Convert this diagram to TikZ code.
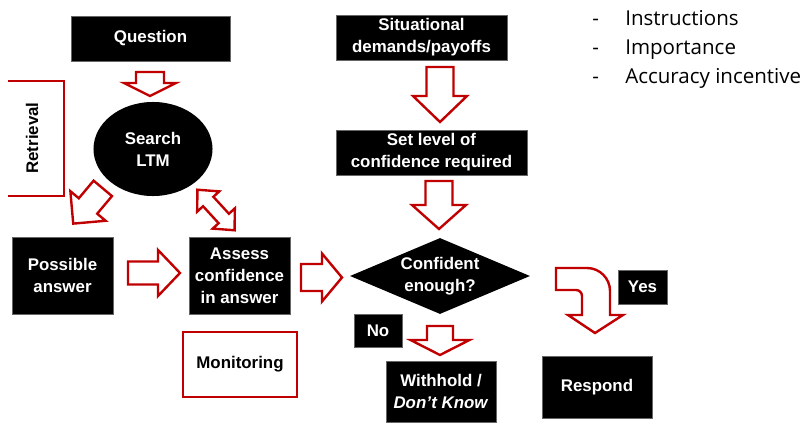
\documentclass[tikz,border=0pt]{standalone}
\usepackage{fontspec}
\setmainfont{Liberation Sans}
\newfontfamily\listfont{Open Sans}
\usepackage{xcolor}
\usepackage{tikz}
\usetikzlibrary{shapes,arrows,positioning,calc}
\usetikzlibrary{shapes.geometric}
\definecolor{darkred}{RGB}{192,0,0}

\begin{document}
\begin{tikzpicture}[x=0.025cm, y=0.025cm,
  box/.style={rectangle, draw=black!60, line width=0.6pt, fill=black, text=white, inner sep=0pt,
    font=\bfseries\fontsize{12}{15.5}\selectfont, align=center},
  redbox/.style={rectangle, draw=darkred, line width=1.7pt, fill=white, inner sep=0pt,
    font=\bfseries\fontsize{12}{15.5}\selectfont, align=center},
  redline/.style={draw=darkred, line width=1.7pt, line join=miter},
  listitem/.style={anchor=west, inner sep=0pt, text height=1.6ex, text depth=0.3ex,
    font=\listfont\fontsize{14.6}{16}\selectfont},
  pics/blkarrow/.style n args={4}{code={
    \draw[redline, fill=white] (-#1/2,-#2/2) -- ({#1/2-#4},-#2/2) -- ({#1/2-#4},-#3/2) -- (#1/2,0)
      -- ({#1/2-#4},#3/2) -- ({#1/2-#4},#2/2) -- (-#1/2,#2/2) -- cycle;}},
  pics/dblarrow/.style n args={4}{code={
    \draw[redline, fill=white] (-#1/2,0) -- ({-#1/2+#4},#3/2) -- ({-#1/2+#4},#2/2) -- ({#1/2-#4},#2/2)
      -- ({#1/2-#4},#3/2) -- (#1/2,0) -- ({#1/2-#4},-#3/2) -- ({#1/2-#4},-#2/2)
      -- ({-#1/2+#4},-#2/2) -- ({-#1/2+#4},-#3/2) -- cycle;}}
]
\useasboundingbox (0,0) rectangle (804,-426);

% Boxes
\node[box, minimum width=3.975cm, minimum height=1.125cm] (question) at (150.5,-38.5) {Question};
\node[box, minimum width=4.275cm, minimum height=1.125cm] (situ) at (421.5,-37.5) {Situational\\demands/payoffs};
\node[box, minimum width=4.775cm, minimum height=1.125cm] (setlevel) at (431.5,-152.5) {Set level of\\confidence required};
\node[ellipse, fill=black, text=white, inner sep=0pt, minimum width=2.975cm, minimum height=2.35cm,
  font=\bfseries\fontsize{12}{15.5}\selectfont, align=center] (search) at (153,-149) {Search\\LTM};
\node[box, minimum width=2.525cm, minimum height=1.925cm] (possible) at (62.5,-275.5) {Possible\\answer};
\node[box, minimum width=2.525cm, minimum height=1.925cm] (assess) at (239.5,-275.5) {Assess\\confidence\\in answer};
\node[diamond, fill=black, inner sep=0pt, minimum width=4.5cm, minimum height=1.9cm] (conf) at (440,-276) {};
\node[text=white, font=\bfseries\fontsize{12}{15.5}\selectfont, align=center] (conftext) at (conf.center) {Confident\\enough?};
\node[box, minimum width=1.225cm, minimum height=0.85cm] (yes) at (642.5,-287) {Yes};
\node[box, minimum width=1.2cm, minimum height=0.825cm] (no) at (378,-330.5) {No};
\node[box, minimum width=2.75cm, minimum height=1.525cm] (withhold) at (441,-391.5) {Withhold /\\\textit{Don’t Know}};
\node[box, minimum width=2.75cm, minimum height=1.55cm] (respond) at (597,-387) {Respond};
\node[redbox, minimum width=2.85cm, minimum height=1.625cm] (monitor) at (240,-364.5) {Monitoring};

% Retrieval bracket
\draw[redline] (8,-81) -- (64,-81) -- (64,-196) -- (8,-196);
\node[rotate=90, font=\bfseries\fontsize{12}{14}\selectfont] (retrieval) at (32,-138) {Retrieval};

% Block arrows
\pic[rotate=-90] at (150,-84) {blkarrow={24}{28}{52}{13}};
\pic[rotate=230] at (88,-206) {blkarrow={46}{24}{46}{23}};
\pic[rotate=-47.5] at (216,-210) {dblarrow={55}{14}{30}{16}};
\pic at (154,-273) {blkarrow={52}{23}{46}{22}};
\pic at (321.5,-277.5) {blkarrow={41}{27}{48}{20}};
\pic[rotate=-90] at (440,-94.5) {blkarrow={55}{27}{54}{26}};
\pic[rotate=-90] at (439,-205) {blkarrow={48}{27}{54}{24}};
\pic[rotate=-90] at (440,-340.5) {blkarrow={29}{26}{59}{15}};

% Yes turn
\draw[redline, fill=white] (556,-268) -- (587,-268) arc[start angle=90, end angle=0, radius=23]
  -- (610,-315) -- (623,-315) -- (595,-333) -- (568,-315) -- (582,-315) -- (582,-296)
  arc[start angle=0, end angle=90, radius=6] -- (556,-290) -- cycle;

% Situational demands
\foreach \y/\t [count=\i] in {21/Instructions, 50/Importance, 79/Accuracy incentive} {
  \node[listitem] (dash\i) at (592,-\y) {-};
  \node[listitem] (item\i) at (625,-\y) {\t};
}

\end{tikzpicture}
\end{document}
